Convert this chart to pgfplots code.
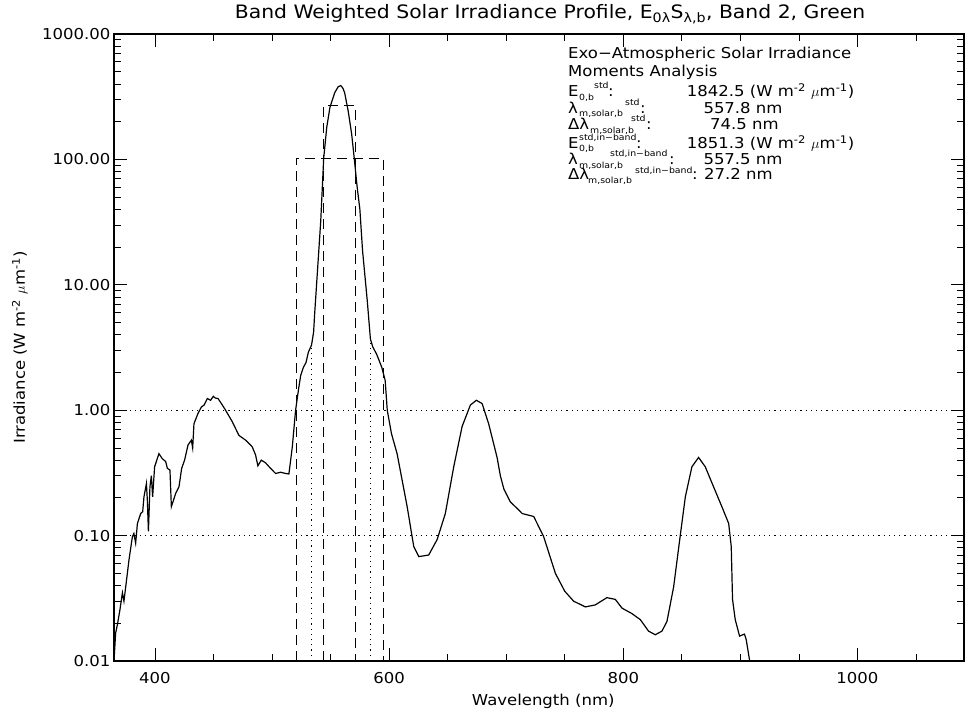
\documentclass[border=0pt]{standalone}
\usepackage{fontspec}
\setmainfont{DejaVu Sans}[FakeStretch=1.1]
\usepackage{pgfplots}
\pgfplotsset{compat=1.18}
\newcommand{\ann}{\fontsize{15}{17}\selectfont}
\newcommand{\sub}{\fontsize{8.5}{10}\selectfont}
% text placed at image pixel (x, baseline) measured from the axis' top-left corner
\newcommand{\T}[4]{\node[anchor=base west, inner sep=0pt, font=#4] at ([xshift=#1pt, yshift=#2pt]current axis.north west) {#3};}
\begin{document}
\begin{tikzpicture}
\begin{axis}[
  scale only axis, width=850pt, height=627pt,
  ymode=log, xmin=365, xmax=1091, ymin=0.01, ymax=1000,
  xtick={400,600,800,1000}, xticklabels={400,600,800,1000},
  minor xtick={450,500,550,650,700,750,850,900,950,1050},
  ytick={0.01,0.1,1,10,100,1000},
  yticklabels={0.01,0.10,1.00,10.00,100.00,1000.00},
  tick align=inside, major tick length=13pt, minor tick length=7pt,
  every tick/.style={black, line width=0.8pt},
  axis line style={line width=1.1pt},
  tick label style={font=\fontsize{15}{17}\selectfont},
  xticklabel style={anchor=base, yshift=-22pt},
  title={Band Weighted Solar Irradiance Profile, E\textsubscript{0λ}S\textsubscript{λ,b}, Band 2, Green},
  title style={at={(axis description cs:0.513,1)}, anchor=base, yshift=9pt, font=\fontsize{18.5}{21}\selectfont},
  xlabel={Wavelength (nm)},
  xlabel style={at={(axis description cs:0.505,0)}, anchor=base, yshift=-44.7pt, font=\fontsize{15}{17}\selectfont},
  ylabel={Irradiance (W m\textsuperscript{-2} $\mu$m\textsuperscript{-1})},
  ylabel style={at={(axis description cs:-0.1047,0.5)}, anchor=base, font=\fontsize{15}{17}\selectfont},
]
\addplot[black, line width=1.2pt] coordinates {
(365.0,0.0100) (366.4,0.0167) (367.9,0.0195) (370.1,0.0257) (372.2,0.035) (373.5,0.030) (375.0,0.039)
(377.8,0.064) (380.7,0.098) (382.0,0.104) (383.5,0.087) (385.0,0.125) (387.8,0.150) (389.5,0.155)
(390.6,0.204) (392.7,0.260) (393.5,0.190) (394.4,0.108) (395.7,0.245) (396.9,0.300) (398.0,0.204)
(399.7,0.354) (403.4,0.450) (406.3,0.410) (409.1,0.390) (410.6,0.344) (412.8,0.333) (414.0,0.170)
(417.7,0.217) (420.5,0.245) (422.8,0.344) (425.3,0.400) (428.2,0.527) (431.1,0.577) (432.2,0.500)
(433.3,0.780) (436.7,0.940) (439.6,1.060) (442.0,1.10) (444.7,1.24) (447.5,1.20) (449.8,1.29)
(451.5,1.25) (453.8,1.24) (457.0,1.12) (460.3,1.00) (466.0,0.81) (471.7,0.63) (477.4,0.577)
(483.1,0.51) (485.9,0.44) (487.9,0.36) (490.8,0.40) (494.5,0.38) (498.7,0.344) (503.0,0.313)
(507.3,0.320) (511.6,0.313) (514.4,0.310) (517.3,0.51) (520.1,1.00) (522.9,1.53) (524.5,1.9)
(526.8,2.2) (529.0,2.4) (531.0,2.9) (533.7,3.3) (535.5,4.2) (536.4,5.9) (539.0,13.8) (541.6,32.5)
(544.1,102) (546.7,180) (549.4,259) (553.5,340) (556.5,380) (558.7,388) (560.5,370) (562.0,340)
(565.0,244) (568.0,159) (570.2,102) (572.7,60) (575.0,40) (577.3,18.7) (581.3,7.5) (584.0,3.7)
(586.0,3.2) (589.3,2.8) (593.7,2.2) (596.6,1.73) (598.4,1.0) (602.0,0.65) (606.8,0.45) (611.0,0.28)
(615.4,0.17) (621.0,0.082) (625.3,0.068) (633.8,0.070) (641.0,0.093) (648.0,0.15) (655.2,0.355)
(662.3,0.74) (669.4,1.10) (674.5,1.20) (679.4,1.13) (685.0,0.78) (692.2,0.42) (695.0,0.30)
(698.0,0.235) (703.5,0.186) (710.7,0.160) (713.6,0.150) (723.5,0.142) (732.0,0.098) (742.0,0.050)
(750.0,0.036) (757.6,0.030) (767.6,0.027) (776.0,0.028) (786.0,0.032) (793.2,0.031) (798.9,0.0264)
(807.0,0.024) (814.5,0.0214) (821.6,0.0173) (827.3,0.0162) (833.0,0.0173) (837.3,0.0207) (843.0,0.039)
(848.7,0.101) (853.0,0.204) (858.6,0.354) (864.3,0.420) (870.0,0.354) (877.1,0.245) (884.2,0.170)
(890.0,0.125) (892.2,0.082) (893.3,0.031) (895.6,0.0214) (899.3,0.0158) (903.5,0.0164) (905.0,0.0148)
(907.8,0.0102) (908.0,0.0100)
};
\addplot[black, line width=0.9pt, dash pattern=on 10pt off 6pt] coordinates {(520.55,0.01) (520.55,102) (595.05,102) (595.05,0.01)};
\addplot[black, line width=0.9pt, dash pattern=on 10pt off 6pt] coordinates {(543.9,0.01) (543.9,269) (571.1,269) (571.1,0.01)};
\addplot[black, line width=0.8pt, dash pattern=on 1.2pt off 4pt] coordinates {(534,0.01) (534,3.3)};
\addplot[black, line width=0.8pt, dash pattern=on 1.2pt off 4pt] coordinates {(584,0.01) (584,3.5)};
\addplot[black, line width=0.8pt, dash pattern=on 1.2pt off 4pt] coordinates {(365,1) (1091,1)};
\addplot[black, line width=0.8pt, dash pattern=on 1.2pt off 4pt] coordinates {(365,0.1) (1091,0.1)};
\end{axis}
% annotation block
\T{454}{-24.3}{Exo−Atmospheric Solar Irradiance}{\ann}
\T{454}{-42.7}{Moments Analysis}{\ann}
% line 3
\T{454}{-62.7}{E}{\ann}
\T{465}{-66.2}{0,b}{\sub}
\T{480}{-54.7}{std}{\sub}
\T{494}{-62.7}{:}{\ann}
\T{572.7}{-62.7}{1842.5 (W m\textsuperscript{-2} $\mu$m\textsuperscript{-1})}{\ann}
% line 4
\T{454}{-79.3}{λ}{\ann}
\T{465}{-82.8}{m,solar,b}{\sub}
\T{511}{-71.3}{std}{\sub}
\T{526}{-79.3}{:}{\ann}
\T{589.3}{-79.3}{557.8 nm}{\ann}
% line 5
\T{454}{-96}{Δλ}{\ann}
\T{476}{-99.5}{m,solar,b}{\sub}
\T{517}{-88}{std}{\sub}
\T{532}{-96}{:}{\ann}
\T{596}{-96}{74.5 nm}{\ann}
% line 6
\T{454}{-114.3}{E}{\ann}
\T{465}{-117.8}{0,b}{\sub}
\T{465}{-106.3}{std,in−band}{\sub}
\T{522}{-114.3}{:}{\ann}
\T{572.7}{-114.3}{1851.3 (W m\textsuperscript{-2} $\mu$m\textsuperscript{-1})}{\ann}
% line 7
\T{454}{-131}{λ}{\ann}
\T{465}{-134.5}{m,solar,b}{\sub}
\T{496}{-123}{std,in−band}{\sub}
\T{555}{-131}{:}{\ann}
\T{589.3}{-131}{557.5 nm}{\ann}
% line 8
\T{454}{-146}{Δλ}{\ann}
\T{474}{-149.5}{m,solar,b}{\sub}
\T{521}{-139.5}{std,in−band}{\sub}
\T{578}{-146}{:}{\ann}
\T{590}{-146}{27.2 nm}{\ann}
\path (current axis.south west) ++(-114pt,-54pt) rectangle ++(969pt,715pt);
\end{tikzpicture}
\end{document}
